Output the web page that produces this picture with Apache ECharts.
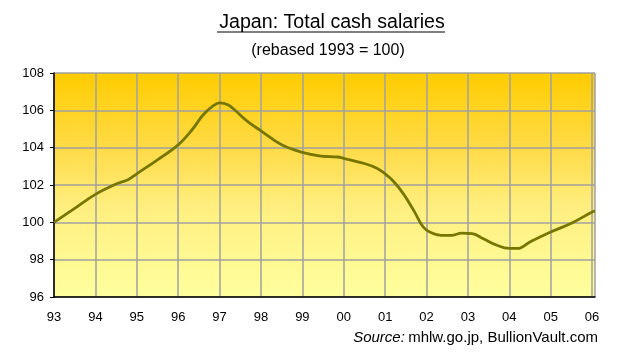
<!DOCTYPE html>
<html>
<head>
<meta charset="utf-8">
<script src="https://cdn.jsdelivr.net/npm/echarts@6/dist/echarts.min.js"></script>
<style>html,body{margin:0;padding:0;background:#fff}#c{width:620px;height:361px}</style>
</head>
<body>
<div id="c"></div>
<script>
// Data
const years = [1993.0,1993.5,1994.0,1994.5,1994.8,1995.0,1995.5,1996.0,1996.35,1996.6,1996.85,1997.0,1997.2,1997.4,1997.65,1998.0,1998.5,1999.0,1999.45,1999.85,2000.0,2000.5,2000.8,2001.0,2001.2,2001.45,2001.7,2001.92,2002.1,2002.35,2002.6,2002.85,2003.1,2003.35,2003.7,2004.0,2004.2,2004.5,2005.0,2005.5,2006.0,2006.07];
const salaries = [100.0,100.75,101.5,102.05,102.3,102.6,103.35,104.15,105.0,105.75,106.25,106.4,106.3,105.95,105.45,104.9,104.15,103.75,103.55,103.5,103.43,103.15,102.9,102.6,102.2,101.5,100.6,99.75,99.45,99.3,99.3,99.42,99.4,99.15,98.77,98.6,98.6,98.95,99.48,99.95,100.55,100.6];
const yTicks = [96, 98, 100, 102, 104, 106, 108];
const xTickLabels = ['93','94','95','96','97','98','99','00','01','02','03','04','05','06'];

const titleText = 'Japan: Total cash salaries';
const subtitleText = '(rebased 1993 = 100)';

const chart = echarts.init(document.getElementById('c'), null, {renderer: 'canvas'});
const FONT = '"Liberation Sans", Arial, sans-serif';

const seriesData = years.map((y, i) => [y, salaries[i]]);

chart.setOption({
  animation: false,
  backgroundColor: '#ffffff',
  title: [
    {text: titleText, left: 327, top: 8, textAlign: 'center',
     textStyle: {fontFamily: FONT, fontSize: 19.6, fontWeight: 'normal', color: '#000'}},
    {text: subtitleText, left: 323, top: 38, textAlign: 'center',
     textStyle: {fontFamily: FONT, fontSize: 16, fontWeight: 'normal', color: '#000'}}
  ],
  graphic: [
    {type: 'line', shape: {x1: 217, y1: 32, x2: 445, y2: 32}, style: {stroke: '#000', lineWidth: 1}},
    {type: 'text', right: 22, top: 330,
     style: {rich: {i: {fontStyle: 'italic', fontFamily: FONT, fontSize: 15, fill: '#000'},
                    n: {fontFamily: FONT, fontSize: 15, fill: '#000'}},
             text: '{i|Source:} {n|mhlw.go.jp, BullionVault.com}', fill: '#000'}}
  ],
  grid: {
    left: 54, right: 25, top: 73, bottom: 64, show: true, borderWidth: 0,
    backgroundColor: new echarts.graphic.LinearGradient(0, 0, 0, 1, [
      {offset: 0, color: '#FFCC00'},
      {offset: 0.35, color: '#FFDC4A'},
      {offset: 0.6, color: '#FFEF80'},
      {offset: 1, color: '#FFFF9E'}
    ])
  },
  xAxis: {
    type: 'value', min: 1993, max: 2006.07, interval: 1,
    axisLine: {show: true, onZero: false, lineStyle: {color: '#000', width: 1.5}},
    axisTick: {show: false},
    axisLabel: {
      margin: 14, color: '#000', fontFamily: FONT, fontSize: 13,
      showMaxLabel: true,
      formatter: v => {
        const r = Math.round(v);
        if (Math.abs(v - r) > 1e-6) return '';
        const idx = r - 1993;
        return xTickLabels[idx] !== undefined ? xTickLabels[idx] : '';
      }
    },
    splitLine: {show: true, lineStyle: {color: '#A0A0A0', width: 1.5}}
  },
  yAxis: {
    type: 'value', min: yTicks[0], max: yTicks[yTicks.length - 1], interval: 2,
    axisLine: {show: true, lineStyle: {color: '#000', width: 1.5}},
    axisTick: {show: true, length: 4, lineStyle: {color: '#000'}},
    axisLabel: {margin: 10, color: '#000', fontFamily: FONT, fontSize: 13},
    splitLine: {show: true, lineStyle: {color: '#A0A0A0', width: 1.5}}
  },
  series: [{
    type: 'line', data: seriesData, smooth: 0.4, showSymbol: false,
    lineStyle: {color: '#767600', width: 2.8}
  }]
});
</script>
</body>
</html>
